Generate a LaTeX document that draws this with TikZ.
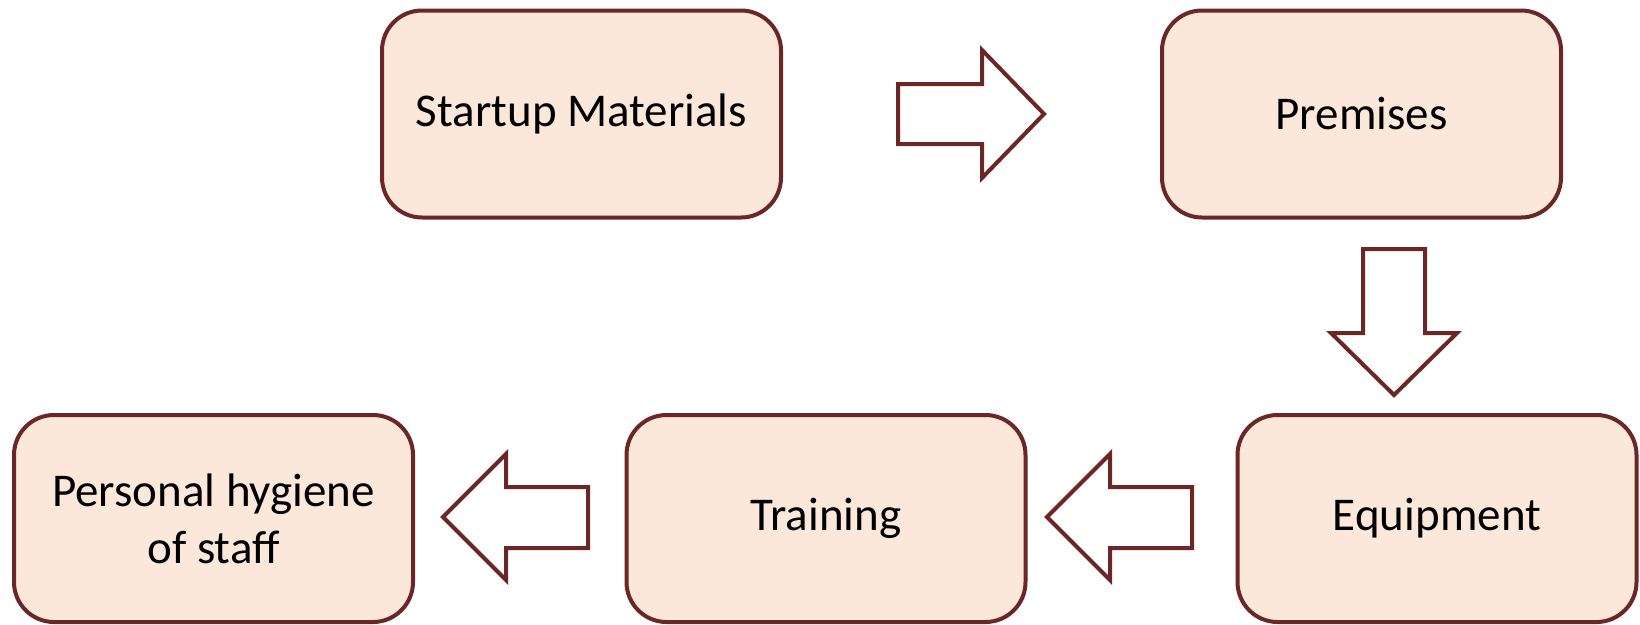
\documentclass[tikz,border=0pt]{standalone}
\usepackage{fontspec}
\setmainfont{Carlito}
\definecolor{edge}{HTML}{6B2626}
\definecolor{boxfill}{HTML}{FCE8DA}
\begin{document}
\begin{tikzpicture}[x=1pt,y=-1pt,
  stepbox/.style={draw=edge, fill=boxfill, line width=4pt, rounded corners=40pt,
    minimum width=399pt, minimum height=207pt, align=center, inner sep=0pt,
    font=\fontsize{47}{57}\selectfont},
  blockarrow/.style={draw=edge, fill=white, line width=4pt, line join=miter}]
\useasboundingbox (0,0) rectangle (1640,624);
\node[stepbox] (s) at (581.5,114) {Startup Materials};
\node[stepbox] (p) at (1361.5,114) {Premises};
\node[stepbox] (e) at (1437,518.5) {Equipment};
\node[stepbox] (t) at (826,518.5) {Training};
\node[stepbox] (h) at (213.5,518.5) {Personal hygiene\\of staff};
% right arrow
\draw[blockarrow] (898,84) -- (982,84) -- (982,50) -- (1044,114) -- (982,178) -- (982,144) -- (898,144) -- cycle;
% down arrow
\draw[blockarrow] (1363,249) -- (1425,249) -- (1425,333) -- (1457,333) -- (1394,395) -- (1331,333) -- (1363,333) -- cycle;
% left arrow 1
\draw[blockarrow] (1192,487) -- (1110,487) -- (1110,454) -- (1047,517) -- (1110,580) -- (1110,548) -- (1192,548) -- cycle;
% left arrow 2
\draw[blockarrow] (588,487) -- (506,487) -- (506,454) -- (443,517) -- (506,580) -- (506,548) -- (588,548) -- cycle;
\end{tikzpicture}
\end{document}
